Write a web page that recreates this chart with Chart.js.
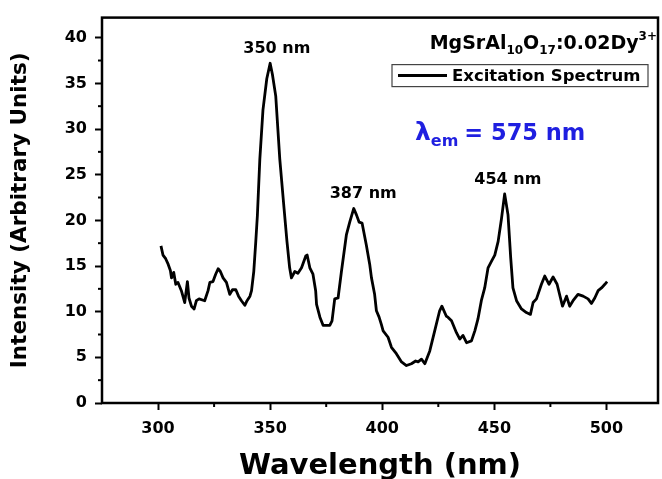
<!DOCTYPE html>
<html>
<head>
<meta charset="utf-8">
<script src="https://cdn.jsdelivr.net/npm/chart.js@4.4.1/dist/chart.umd.min.js"></script>
<style>
  html, body { margin: 0; padding: 0; background: #fff; overflow: hidden; }
  #wrap { width: 662px; height: 479px; position: relative; }
  #chart { display: block; }
</style>
</head>
<body>
<div id="wrap"><canvas id="chart"></canvas></div>
<script>
const FONT = "'DejaVu Sans', sans-serif";

// Excitation spectrum (nm, arbitrary units)
const wavelength = [
  301.3, 302.2, 303.4, 304.5, 305.5, 306.0, 307.0, 307.9, 308.9, 310.4,
  311.9, 313.1, 313.8, 314.9, 316.1, 317.1, 318.3, 320.8, 322.3, 323.1,
  324.5, 325.7, 326.8, 327.8, 329.0, 330.5, 332.0, 333.2, 334.7, 335.9,
  337.2, 338.7, 339.7, 341.0, 341.7, 342.7, 343.6, 344.3, 345.4, 346.8,
  348.5, 350.0, 351.0, 352.5, 354.3, 356.2, 357.5, 358.7, 359.5, 361.0,
  362.4, 364.0, 365.9, 366.5, 367.7, 369.1, 370.3, 370.7, 372.2, 373.6,
  376.6, 377.6, 378.8, 380.3, 381.8, 384.0, 385.5, 387.3, 388.5, 389.7,
  391.0, 392.9, 394.4, 395.2, 396.6, 397.4, 398.6, 399.6, 400.4, 402.6,
  404.1, 406.3, 408.6, 410.8, 413.0, 414.9, 416.0, 417.5, 419.0, 421.2,
  423.4, 425.6, 426.6, 428.6, 429.3, 430.9, 433.1, 434.6, 436.0, 437.6,
  439.8, 441.3, 442.7, 444.2, 445.7, 447.2, 448.7, 450.2, 451.7, 453.2,
  454.6, 456.1, 457.3, 458.3, 459.9, 462.1, 464.3, 466.1, 467.3, 468.8,
  471.0, 472.5, 474.4, 476.2, 478.0, 479.5, 480.4, 482.2, 483.6, 485.1,
  487.3, 489.6, 491.8, 493.3, 494.8, 496.3, 497.8, 499.3, 500.3
];
const intensity = [
  17.2, 16.2, 15.8, 15.2, 14.5, 13.7, 14.3, 13.0, 13.2, 12.3,
  11.0, 13.3, 11.5, 10.6, 10.3, 11.2, 11.4, 11.2, 12.3, 13.2,
  13.3, 14.1, 14.7, 14.4, 13.7, 13.2, 11.9, 12.4, 12.4, 11.7,
  11.2, 10.7, 11.2, 11.7, 12.3, 14.4, 17.7, 20.5, 26.7, 32.1,
  35.5, 37.2, 36.0, 33.6, 26.7, 21.3, 17.7, 14.8, 13.7, 14.4,
  14.2, 14.8, 16.1, 16.2, 14.8, 14.1, 12.3, 10.8, 9.4, 8.5,
  8.5, 9.0, 11.4, 11.5, 14.4, 18.4, 19.8, 21.3, 20.6, 19.8,
  19.7, 17.3, 15.2, 13.7, 11.9, 10.1, 9.4, 8.6, 7.9, 7.2,
  6.1, 5.4, 4.5, 4.1, 4.3, 4.6, 4.5, 4.8, 4.3, 5.7,
  7.9, 10.1, 10.6, 9.5, 9.4, 9.0, 7.7, 7.0, 7.4, 6.6,
  6.8, 7.9, 9.2, 11.2, 12.6, 14.8, 15.5, 16.2, 17.7, 20.2,
  22.9, 20.6, 15.9, 12.6, 11.2, 10.3, 9.9, 9.7, 11.0, 11.4,
  13.0, 13.9, 13.0, 13.8, 13.0, 11.5, 10.6, 11.7, 10.6, 11.2,
  11.9, 11.7, 11.4, 10.9, 11.5, 12.3, 12.6, 13.0, 13.3
];

// tick values
const xTicks = [300, 350, 400, 450, 500];
const yTicks = [0, 5, 10, 15, 20, 25, 30, 35, 40];
const minorX = [325, 375, 425, 475];
const minorY = [2.5, 7.5, 12.5, 17.5, 22.5, 27.5, 32.5, 37.5];

// peak annotations (label centre in nm)
const peakNm = [353, 391.5, 456];
const peakText = ["350 nm", "387 nm", "454 nm"];

const seriesLabel = "Excitation Spectrum";

function drawRuns(ctx, runs, xRight, baseline) {
  let total = 0;
  runs.forEach(r => { ctx.font = `bold ${r[1]}px ${FONT}`; total += ctx.measureText(r[0]).width; });
  let cx = xRight - total;
  ctx.textAlign = "left";
  runs.forEach(r => {
    ctx.font = `bold ${r[1]}px ${FONT}`;
    ctx.fillText(r[0], cx, baseline + r[2]);
    cx += ctx.measureText(r[0]).width;
  });
}

const decor = {
  id: "decor",
  afterDraw(chart) {
    const { ctx, chartArea: a, scales: { x, y } } = chart;
    ctx.save();
    ctx.strokeStyle = "#000";
    ctx.fillStyle = "#000";
    ctx.lineWidth = 2.5;
    ctx.strokeRect(a.left, a.top, a.right - a.left, a.bottom - a.top);

    ctx.lineWidth = 2;
    minorX.forEach(v => {
      const px = x.getPixelForValue(v);
      ctx.beginPath(); ctx.moveTo(px, a.bottom); ctx.lineTo(px, a.bottom + 4); ctx.stroke();
    });
    minorY.forEach(v => {
      const py = y.getPixelForValue(v);
      ctx.beginPath(); ctx.moveTo(a.left, py); ctx.lineTo(a.left - 4, py); ctx.stroke();
    });

    // peak labels
    ctx.font = `bold 16px ${FONT}`;
    ctx.textAlign = "center";
    ctx.textBaseline = "alphabetic";
    peakNm.forEach((nm, i) => {
      let top = 0;
      wavelength.forEach((w, j) => { if (Math.abs(w - nm) < 5 && intensity[j] > top) top = intensity[j]; });
      ctx.fillText(peakText[i], x.getPixelForValue(nm), y.getPixelForValue(top) - 10);
    });

    // sample name
    drawRuns(ctx, [
      ["MgSrAl", 19, 0], ["10", 12, 5], ["O", 19, 0], ["17", 12, 5],
      [":0.02Dy", 19, 0], ["3+", 12, -9]
    ], a.right - 1, a.top + 31);

    // legend box
    const bw = 256, bh = 22;
    const bx = a.right - 10 - bw, by = a.top + 47;
    ctx.lineWidth = 1.2;
    ctx.strokeStyle = "#444";
    ctx.strokeRect(bx, by, bw, bh);
    ctx.strokeStyle = "#000";
    ctx.lineWidth = 3;
    ctx.beginPath(); ctx.moveTo(bx + 6, by + bh / 2); ctx.lineTo(bx + 55, by + bh / 2); ctx.stroke();
    ctx.font = `bold 16.5px ${FONT}`;
    ctx.textAlign = "left";
    ctx.textBaseline = "middle";
    ctx.fillText(seriesLabel, bx + 60, by + bh / 2 + 1);

    // emission wavelength
    ctx.fillStyle = "#1f1fe0";
    ctx.textBaseline = "alphabetic";
    let lx = a.left + 313;
    const lb = a.top + 122;
    ctx.font = `bold 25px ${FONT}`;
    ctx.fillText("\u03bb", lx, lb);
    lx += ctx.measureText("\u03bb").width;
    ctx.font = `bold 16px ${FONT}`;
    ctx.fillText("em", lx, lb + 6);
    lx += ctx.measureText("em").width + 6;
    ctx.font = `bold 22.5px ${FONT}`;
    ctx.fillText("= 575 nm", lx, lb);
    ctx.restore();
  }
};

new Chart(document.getElementById("chart"), {
  type: "line",
  data: {
    datasets: [{
      label: seriesLabel,
      data: wavelength.map((w, i) => ({ x: w, y: intensity[i] })),
      borderColor: "#000",
      borderWidth: 2.8,
      borderJoinStyle: "round",
      pointRadius: 0,
      tension: 0,
      fill: false
    }]
  },
  options: {
    responsive: true,
    maintainAspectRatio: false,
    animation: false,
    layout: { padding: { left: 0, right: 4, top: 14, bottom: 0 } },
    plugins: { legend: { display: false }, tooltip: { enabled: false } },
    scales: {
      x: {
        type: "linear",
        min: 275,
        max: 523,
        afterBuildTicks: s => { s.ticks = xTicks.map(v => ({ value: v })); },
        afterFit: s => { s.height = 76; },
        border: { display: false },
        grid: { drawOnChartArea: false, drawTicks: true, tickLength: 7, tickWidth: 2, tickColor: "#000" },
        ticks: {
          autoSkip: false, maxRotation: 0,
          color: "#000", padding: 9, font: { family: FONT, weight: "bold", size: 16 }
        },
        title: {
          display: true, text: "Wavelength (nm)", color: "#000",
          font: { family: FONT, weight: "bold", size: 29 }, padding: { top: 0, bottom: -5 }
        }
      },
      y: {
        min: 0,
        max: 42.2,
        afterBuildTicks: s => { s.ticks = yTicks.map(v => ({ value: v })); },
        afterFit: s => { s.width = 102; },
        border: { display: false },
        grid: { drawOnChartArea: false, drawTicks: true, tickLength: 7, tickWidth: 2, tickColor: "#000" },
        ticks: {
          autoSkip: false,
          color: "#000", padding: 8, font: { family: FONT, weight: "bold", size: 16 }
        },
        title: {
          display: true, text: "Intensity (Arbitrary Units)", color: "#000",
          font: { family: FONT, weight: "bold", size: 21.5 }, padding: { top: 8, bottom: 0 }
        }
      }
    }
  },
  plugins: [decor]
});
</script>
</body>
</html>
